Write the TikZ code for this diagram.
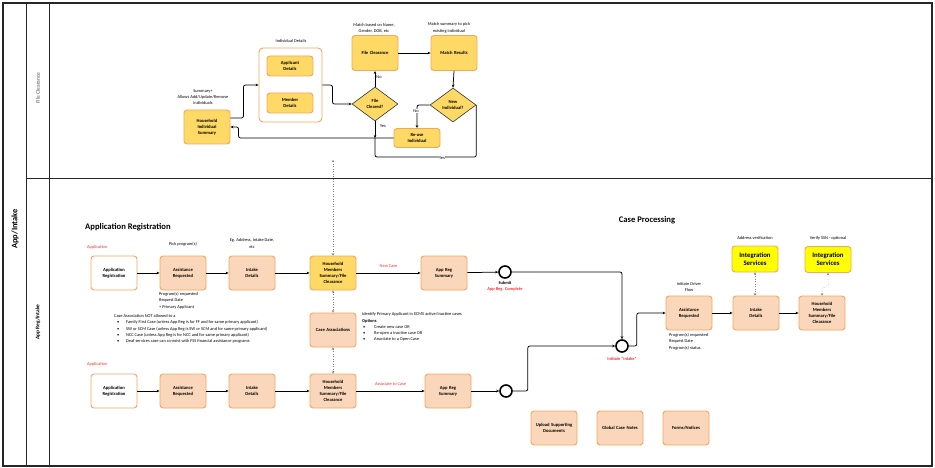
\documentclass[tikz,border=0pt]{standalone}
\usepackage{fontspec}
\setmainfont{Carlito}
\usetikzlibrary{arrows.meta,shapes.geometric,calc}
\definecolor{peach}{RGB}{250,215,186}
\definecolor{orng}{RGB}{243,166,96}
\definecolor{gold}{RGB}{255,217,102}
\definecolor{redt}{RGB}{250,45,45}
\definecolor{yel}{RGB}{255,255,0}
\begin{document}
\begin{tikzpicture}[x=1pt,y=-1pt,
  box/.style={draw=orng, line width=0.9pt, rounded corners=3pt, minimum width=46pt, minimum height=34pt, inner sep=1pt, align=center, text width=44pt, font=\fontsize{4.6}{6.2}\selectfont\bfseries},
  pbox/.style={box, fill=peach},
  ybox/.style={box, fill=gold},
  wbox/.style={box, fill=white},
  isbox/.style={box, fill=yel, minimum height=26pt, font=\fontsize{6.8}{8}\selectfont\bfseries},
  dia/.style={diamond, draw=black!80, line width=0.6pt, fill=gold, minimum width=46pt, minimum height=34pt, aspect=1.35, inner sep=0pt, align=center, font=\fontsize{4.6}{6.2}\selectfont\bfseries},
  lbl/.style={font=\fontsize{4.4}{6.3}\selectfont, align=center, inner sep=0pt},
  redl/.style={lbl, text=redt},
  arr/.style={-{Stealth[length=3pt,width=2.6pt]}, line width=0.75pt, rounded corners=2pt},
  ln/.style={line width=0.75pt, rounded corners=2pt},
  dotc/.style={{Stealth[length=2.4pt,width=2.6pt]}-{Stealth[length=2.4pt,width=2.6pt]}, dotted, line width=0.5pt, draw=gray},
  ev/.style={circle, draw=black, line width=1.6pt, minimum size=12pt, inner sep=0pt, fill=white},
  title/.style={font=\fontsize{8.6}{10}\selectfont\bfseries, inner sep=0pt}
]
\useasboundingbox (0,0) rectangle (935,468);
% lanes
\draw[line width=1.2pt, draw=black!85] (3,3) rectangle (932,466);
\draw[line width=1pt, draw=black!85] (26,3) -- (26,466);
\draw[line width=0.6pt, draw=black!85] (49,3) -- (49,466);
\draw[line width=0.8pt, draw=black!85] (26,178) -- (932,178);
\node[rotate=90, font=\fontsize{8.4}{9}\selectfont\bfseries] (lane0) at (15,229) {App/Intake};
\node[rotate=90, lbl, font=\fontsize{5.6}{6}\selectfont, text=black!65] (lane1) at (38,88) {File Clearance};
\node[rotate=90, lbl, font=\fontsize{5.4}{6}\selectfont\bfseries] (lane2) at (38,322) {App Reg/Intake};

% ---------- File clearance lane ----------
\node[ybox] (hhs) at (207,127) {Household\\Individual\\Summary};
\node[lbl] (hhsl) at (203,97) {Summary+\\Allows Add/Update/Remove\\individuals};
\node[draw=orng, line width=0.9pt, rounded corners=4pt, fill=white, minimum width=63pt, minimum height=74pt] (ind) at (290.5,85) {};
\node[lbl] (indl) at (291,41) {Individual Details};
\node[ybox, minimum height=20pt] (app) at (290,66) {Applicant\\Details};
\node[ybox, minimum height=20pt] (mem) at (290,103) {Member\\Details};
\node[ybox, minimum height=35pt] (fc) at (375,53) {File Clearance};
\node[lbl] (fcl) at (374,28) {Match  based on Name,\\Gender, DOB, etc};
\node[ybox, minimum height=35pt] (mr) at (454,53) {Match Results};
\node[lbl] (mrl) at (449,28) {Match summary to pick\\existing individual};
\node[dia] (fcq) at (375,104) {File\\Cleared?};
\node[dia] (ni) at (453,105) {New\\Individual?};
\node[ybox, minimum height=19pt] (ru) at (417,138) {Re-use\\Individual};

\draw[arr] ([yshift=9pt]hhs.east) -- ++(13,0) |- (ind.west);
\draw[arr] (ind.east) -- ++(10,0) |- (fcq.west);
\draw[arr] (fcq.north) -- (fc.south);
\node[lbl] (no1) at (379,77) {No};
\draw[arr] (fc.east) -- (mr.west);
\draw[arr] (mr.south) -- (ni.north);
\draw[arr] (ni.west) -| (ru.north);
\node[lbl, fill=white, inner sep=0.5pt] (no2) at (416,111) {No};
\draw[arr] (ru.west) -- ++(-155,0) |- (hhs.east);
\draw[arr] (fcq.south) -- (fcq.south |- ru.west);
\node[lbl] (yes1) at (383,126) {Yes};
\draw[ln] (ni.east) -- ++(0,52) -- (fcq.south |- 0,157) -- (fcq.south |- ru.west);
\node[lbl, fill=white, inner sep=0.5pt] (yes2) at (442,158) {Yes};

% ---------- App Reg / Intake lane ----------
\node[title, anchor=west] (t1) at (85,227) {Application Registration};
\node[title] (t2) at (647,220) {Case Processing};

% row 1
\node[redl, anchor=west] (a1l) at (87,247) {Application};
\node[wbox] (ar1) at (114,273) {Application\\Registration};
\node[pbox] (as1) at (183,273) {Assistance\\Requested};
\node[lbl] (as1l) at (183,244) {Pick program(s)};
\node[lbl, align=left, anchor=north west] (as1b) at (159,292) {Program(s) requested\\Request Date\\+ Primary Applicant};
\node[pbox] (in1) at (252,273) {Intake\\Details};
\node[lbl] (in1l) at (252,243.5) {Eg. Address, Intake Date,\\etc};
\node[ybox] (hh1) at (333,273) {Household\\Members\\Summary/File\\Clearance};
\node[pbox] (su1) at (444,273) {App Reg\\Summary};
\node[ev] (ev1) at (505,272) {};
\node[lbl, font=\fontsize{4.4}{6}\selectfont\bfseries] (ev1l) at (505,282.5) {Submit};
\node[redl, font=\fontsize{4.4}{6}\selectfont\bfseries] (ev1r) at (505,289.5) {App Reg. Complete};

\draw[arr] (ar1) -- (as1);
\draw[arr] (as1) -- (in1);
\draw[arr] (in1) -- (hh1);
\draw[arr] (hh1) -- (su1) node[midway, above=5pt, redl] {New Case};
\draw[arr] (su1) -- (ev1);

% middle
\node[pbox] (ca) at (333,330) {Case Associations};
\node[lbl, align=left, anchor=north west] (catxt) at (114,314.3) {Case Association NOT allowed to a\\
\hspace*{3pt}\makebox[9pt][l]{\textbullet}Family First Case (unless App Reg is for FF and for same primary applicant)\\
\hspace*{3pt}\makebox[9pt][l]{\textbullet}SW or SCM Case (unless App Reg is SW or SCM and for same primary applicant)\\
\hspace*{3pt}\makebox[9pt][l]{\textbullet}NCC Case (unless App Reg is for NCC and  for same primary applicant)\\
\hspace*{3pt}\makebox[9pt][l]{\textbullet}Deaf services case can co-exist with FSS financial assistance programs};
\node[lbl, align=left, anchor=north west] (optxt) at (362,312.5) {Identify Primary Applicant in ECMS active/inactive cases\\
\textbf{Options}\\
\hspace*{1pt}\makebox[11pt][l]{\textbullet}Create new case OR\\
\hspace*{1pt}\makebox[11pt][l]{\textbullet}Re-open a inactive case OR\\
\hspace*{1pt}\makebox[11pt][l]{\textbullet}Associate to a Open Case};

% row 2
\node[redl, anchor=west] (a2l) at (87,364) {Application};
\node[wbox] (ar2) at (114,391) {Application\\Registration};
\node[pbox] (as2) at (183,391) {Assistance\\Requested};
\node[pbox] (in2) at (252,391) {Intake\\Details};
\node[pbox] (hh2) at (333,391) {Household\\Members\\Summary/File\\Clearance};
\node[pbox] (su2) at (448,391) {App Reg\\Summary};
\node[ev] (ev2) at (506,391) {};

\draw[arr] (ar2) -- (as2);
\draw[arr] (as2) -- (in2);
\draw[arr] (in2) -- (hh2);
\draw[arr] (hh2) -- (su2) node[midway, above=5pt, redl] {Associate to Case};
\draw[arr] (su2) -- (ev2);

% dotted links
\coordinate (fctop) at (333,160);
\draw[dotc] (fctop) -- (hh1.north);
\draw[dotc] (hh1.south) -- (ca.north);
\draw[dotc] (ca.south) -- (hh2.north);

% case processing
\node[ev] (ini) at (622,346) {};
\node[redl, font=\fontsize{4.4}{6}\selectfont\bfseries] (inil) at (622,359) {Initiate ``Intake''};
\draw[arr] (ev1.east) -| (ini.north);
\draw[arr] (ev2.east) -- ++(15,0) |- (ini.west);

\node[pbox] (cpas) at (689,313) {Assistance\\Requested};
\node[lbl] (cpasl) at (689,287) {Initiate Driver\\Flow};
\node[lbl, align=left, anchor=north west] (cpasb) at (669,333) {Progrom(s) requested\\Request Date\\Progrom(s) status};
\node[pbox] (cpin) at (756,313) {Intake\\Details};
\node[pbox] (cphh) at (822,313) {Household\\Members\\Summary/File\\Clearance};
\node[isbox] (is1) at (755,259) {Integration\\Services};
\node[lbl] (is1l) at (755,238) {Address verification};
\node[isbox] (is2) at (828,259.5) {Integration\\Services};
\node[lbl] (is2l) at (828,238) {Verify SSN - optional};

\draw[arr] (ini.east) -- ++(8,0) |- (cpas.west);
\draw[arr] (cpas) -- (cpin);
\draw[arr] (cpin) -- (cphh);
\draw[dotc] (is1.south) -- (is1.south |- cpin.north);
\draw[dotc] (is2.south) -- ++(0,12) -- ++(-6,4) -- (cphh.north);

% bottom boxes
\node[pbox] (up) at (554,428) {Upload Supporting\\Documents};
\node[pbox] (gn) at (620,428) {Global Case Notes};
\node[pbox] (fn) at (686,428) {Forms/Notices};
\end{tikzpicture}
\end{document}
